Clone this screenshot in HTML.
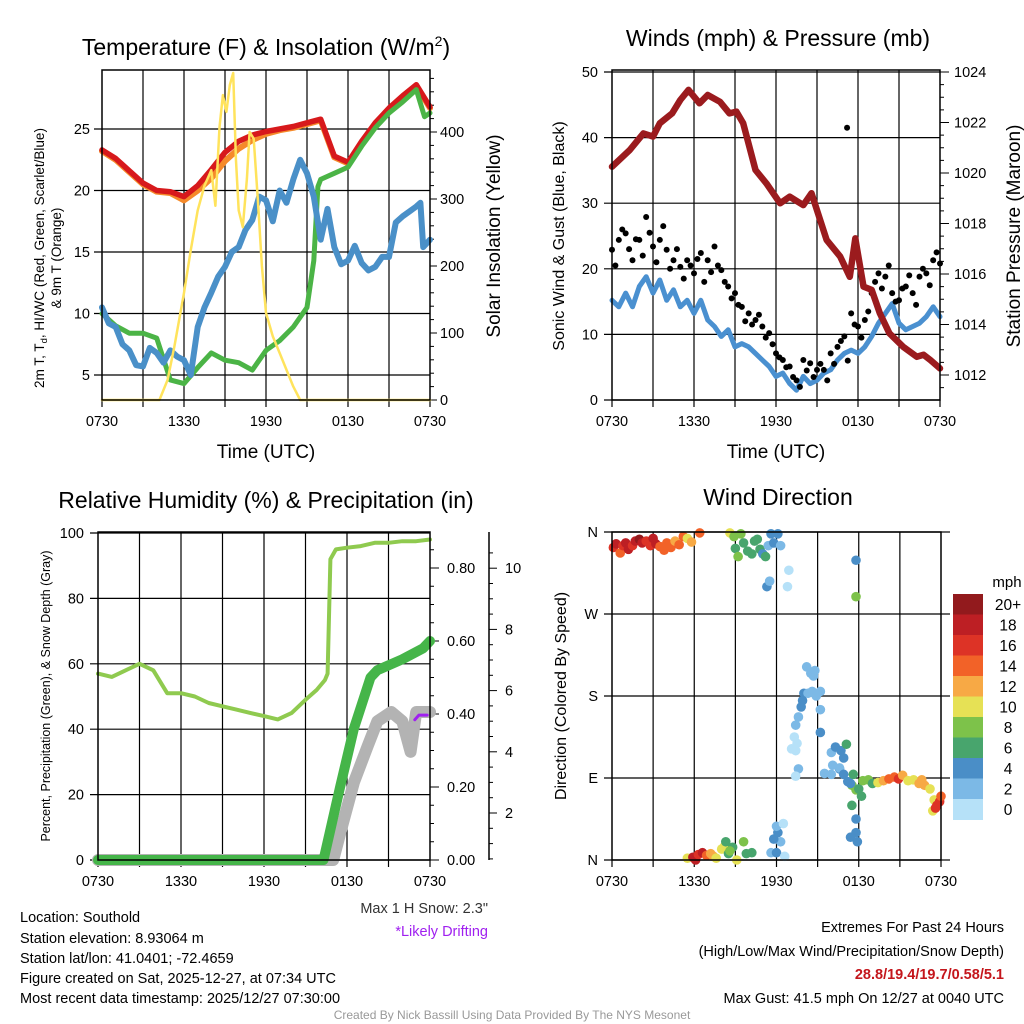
<!DOCTYPE html>
<html><head><meta charset="utf-8"><style>
html,body{margin:0;padding:0;background:#fff}
svg{display:block;font-family:"Liberation Sans",sans-serif}
</style></head><body>
<svg id="c" width="1024" height="1024" viewBox="0 0 1024 1024" xmlns="http://www.w3.org/2000/svg">
<rect width="1024" height="1024" fill="#fff"/>
<g id="g"></g>
<text x="266" y="55" font-size="23" text-anchor="middle">Temperature (F) &amp; Insolation (W/m<tspan font-size="14" dy="-9">2</tspan><tspan dy="9">)</tspan></text>
<text x="778" y="46" font-size="23" text-anchor="middle">Winds (mph) &amp; Pressure (mb)</text>
<text x="266" y="508" font-size="23" text-anchor="middle">Relative Humidity (%) &amp; Precipitation (in)</text>
<text x="778" y="505" font-size="23" text-anchor="middle">Wind Direction</text>
<text x="266" y="458" font-size="19" text-anchor="middle">Time (UTC)</text>
<text x="776" y="458" font-size="19" text-anchor="middle">Time (UTC)</text>
<text transform="translate(44,258) rotate(-90)" font-size="13.5" text-anchor="middle">2m T, T<tspan font-size="9.5" dy="3">d</tspan><tspan dy="-3">, HI/WC (Red, Green, Scarlet/Blue)</tspan></text>
<text transform="translate(61,258) rotate(-90)" font-size="13.5" text-anchor="middle">&amp; 9m T (Orange)</text>
<text transform="translate(500,236) rotate(-90)" font-size="19" text-anchor="middle">Solar Insolation (Yellow)</text>
<text transform="translate(564,236) rotate(-90)" font-size="16" text-anchor="middle">Sonic Wind &amp; Gust (Blue, Black)</text>
<text transform="translate(1020,236) rotate(-90)" font-size="19" text-anchor="middle">Station Pressure (Maroon)</text>
<text transform="translate(50,696) rotate(-90)" font-size="12.5" text-anchor="middle">Percent, Precipitation (Green), &amp; Snow Depth (Gray)</text>
<text transform="translate(566,696) rotate(-90)" font-size="16" text-anchor="middle">Direction (Colored By Speed)</text>
<text x="488" y="913" font-size="14.5" fill="#333" text-anchor="end">Max 1 H Snow: 2.3"</text>
<text x="488" y="936" font-size="14.5" fill="#a020f0" text-anchor="end">*Likely Drifting</text>
<g font-size="14.5">
<text x="20" y="922">Location: Southold</text>
<text x="20" y="943">Station elevation: 8.93064 m</text>
<text x="20" y="963">Station lat/lon: 41.0401; -72.4659</text>
<text x="20" y="983">Figure created on Sat, 2025-12-27, at 07:34 UTC</text>
<text x="20" y="1003">Most recent data timestamp: 2025/12/27 07:30:00</text>
</g>
<g font-size="14.5" text-anchor="end">
<text x="1004" y="932">Extremes For Past 24 Hours</text>
<text x="1004" y="956">(High/Low/Max Wind/Precipitation/Snow Depth)</text>
<text x="1004" y="979" fill="#c4161c" font-weight="bold">28.8/19.4/19.7/0.58/5.1</text>
<text x="1004" y="1003">Max Gust: 41.5 mph On 12/27 at 0040 UTC</text>
</g>
<text x="512" y="1019" font-size="12" fill="#999" text-anchor="middle">Created By Nick Bassill Using Data Provided By The NYS Mesonet</text>
</svg>
<script>
const xTicks=["0730","1330","1930","0130","0730"];
// Panel 1
const hrs=[0,1,2,3,4,5,6,7,8,9,10,11,12,13,14,15,16,17,18,19,20,21,22,23,24];
const tempRed=[23.3,22.6,21.6,20.6,20.0,19.9,19.5,20.4,21.7,23.1,24.0,24.5,24.8,25.0,25.2,25.5,25.8,22.8,22.3,24.0,25.5,26.7,27.7,28.6,26.8];
const temp9m=[23.2,22.5,21.5,20.5,19.9,19.8,19.2,20.0,21.0,22.4,23.4,24.1,24.6,24.9,25.1,25.4,25.7,22.7,22.2,23.9,25.4,26.6,27.6,28.5,26.7];
const greenHrs=[0,1,2,3,4,5,6,7,8,9,10,11,12,13,14,15,15.5,15.8,16,17,18,19,20,21,22,23,23.6,24];
const dewGreen=[10,9,8.4,8.4,8.0,4.6,4.3,5.6,6.8,6.2,6.0,5.4,7.0,7.8,8.9,10.5,14.3,20.3,20.9,21.4,21.9,23.6,25.1,26.3,27.2,28.2,26.0,26.3];
const blueHrs=[0,0.5,1,1.5,2,2.5,3,3.5,4,4.5,5,5.5,6,6.5,7,7.5,8,8.5,9,9.5,10,10.5,11,11.5,12,12.5,13,13.5,14,14.5,15,15.5,16,16.5,17,17.5,18,18.5,19,19.5,20,20.5,21,21.5,22,22.5,23,23.3,23.5,24];
const chillBlue=[10.5,9.2,8.9,7.5,7.0,5.8,5.7,7.2,6.8,6.0,7.0,6.5,6.2,5.0,8.9,10.5,11.7,13.0,13.8,15.0,15.4,16.8,17.6,19.5,19.2,17.5,20.0,19.0,20.9,22.5,21.4,19.5,16.0,18.5,15.4,14.0,14.3,15.5,14.1,13.5,13.8,14.6,14.6,17.4,17.9,18.3,18.7,19.0,15.4,16.0];
const solarHrs=[0,4.2,4.8,5.3,6,6.5,7,7.5,8,8.3,8.6,8.85,9.1,9.35,9.6,9.8,10,10.3,10.6,10.8,11.1,11.4,11.7,12,12.5,13,13.5,14,14.5,24];
const solar=[0,0,30,80,160,224,283,320,343,290,407,455,430,470,488,360,283,258,330,400,390,300,200,130,95,70,45,20,0,0];
// Panel 2
const windHrs=[0,0.5,1,1.5,2,2.5,3,3.5,4,4.5,5,5.5,6,6.5,7,7.5,8,8.5,9,9.5,10,10.5,11,11.5,12,12.5,13,13.5,14,14.5,15,15.5,16,16.5,17,17.5,18,18.5,19,19.5,20,20.5,21,21.5,22,22.5,23,23.5,24];
const windBlue=[15.2,14.2,16.3,14.2,17.3,18.8,16.3,18.3,15.2,16.8,14.2,15.2,13.2,15.2,12.2,11.2,9.7,10.7,8.1,8.6,8.1,7.1,6.1,5.1,3.6,4.1,2.5,1.5,3.6,2.5,3.0,4.1,4.6,6.1,7.1,7.6,7.1,8.1,9.7,11.7,13.2,14.7,11.7,10.7,11.2,11.7,12.7,14.2,12.7];
const gust=[22.9,24.4,25.4,21.3,24.4,27.9,23.4,24.4,22.9,21.3,20.3,21.3,19.3,22.4,21.3,23.4,19.8,17.3,16.3,14.2,13.2,12.2,11.2,10.2,7.1,6.1,5.1,3.0,6.1,5.6,4.6,4.6,7.1,8.1,9.7,13.2,11.2,12.2,16.3,19.3,18.8,16.3,15.2,17.3,16.3,18.8,19.3,21.3,20.8];
const gust2=[20.5,26.0,23.0,24.5,22.0,25.5,21.0,26.5,20.0,23.0,18.5,20.5,21.5,18.0,19.5,20.5,18.0,15.5,14.5,12.0,11.5,13.0,9.5,8.5,6.5,5.0,3.5,2.0,4.5,3.5,5.5,3.0,5.5,9.0,6.0,11.5,9.5,13.5,18.0,17.0,20.5,15.0,17.0,19.0,14.5,20.0,17.5,22.5,19.5];
const pHrs=[0,1.3,2.3,3,3.5,4.4,5,5.6,6.4,7,7.9,8.6,9.1,9.6,10.5,11.3,12.3,13,14,14.6,15.7,16.7,17.4,17.8,18.4,19,19.6,20.3,21.3,22.3,22.8,23.3,24];
const pressure=[1020.25,1020.91,1021.57,1021.44,1021.97,1022.36,1022.89,1023.29,1022.76,1023.09,1022.82,1022.36,1022.43,1021.97,1020.12,1019.59,1018.80,1019.06,1018.73,1019.2,1017.35,1016.69,1015.89,1017.41,1015.5,1015.37,1014.44,1013.65,1013.12,1012.72,1012.8,1012.59,1012.26];
// Panel 3
const rhHrs=[0,1,2,3,4,5,6,7,8,9,10,11,12,13,14,15,15.8,16.4,16.6,16.8,17.2,18,19,20,21,22,23,24];
const rh=[57,56,58,60,58,51,51,50,48,47,46,45,44,43,45,49,52,55,57,92,95,95.5,96,97,97,97.5,97.5,98];
const prHrs=[0,16.3,17.5,18.5,19.7,20.2,22,23.5,24];
const precip=[0,0,0.2,0.36,0.5,0.52,0.55,0.58,0.6];
const snHrs=[0,17,17.6,18.5,19.5,20.2,21.2,22.0,22.6,23.0,23.3,24];
const snow=[0,0,1.5,3.0,4.2,5.0,5.3,5.0,4.0,5.3,5.3,5.3];
const driftHrs=[22.9,23.2,23.8];
const drift=[5.05,5.2,5.2];
// Panel 4
const wdHour=[0.1,0.3,0.6,0.8,1.0,1.2,1.5,1.7,2.0,2.2,2.5,2.8,3.0,3.2,3.5,3.8,4.0,4.3,4.6,4.9,5.2,5.5,5.8,6.4,8.6,8.9,9.0,9.2,9.4,9.6,9.9,10.2,10.4,10.6,10.8,11.0,11.2,11.4,11.6,11.8,12.1,12.3,11.3,11.5,12.9,12.8,17.8,17.8,14.2,14.5,14.7,14.8,14.0,14.3,14.6,14.9,13.9,13.8,15.2,15.2,13.6,13.4,13.3,13.5,13.1,13.4,13.6,13.4,15.2,16.0,16.3,16.7,17.1,16.9,16.6,16.1,16.6,15.5,16.0,16.9,17.2,17.6,17.5,17.8,17.4,18.0,18.2,17.5,17.8,17.8,17.4,17.9,18.3,18.7,19.0,19.4,19.8,20.2,20.6,20.9,21.2,21.6,22.0,22.4,22.8,23.2,23.5,23.7,23.9,24.0,23.4,23.6,22.6,5.5,5.9,6.1,6.3,6.6,6.9,7.2,7.4,7.6,8.0,8.2,8.5,8.8,8.6,9.1,8.3,9.6,9.8,10.2,11.6,12.0,12.3,12.6,11.8,12.1,12.0,12.5];
const wdDir=[343,347,337,345,348,341,345,350,352,348,350,345,353,347,344,340,348,343,350,346,355,353,349,359,359,355,342,333,358,348,339,336,350,352,341,336,333,345,358,348,358,345,300,306,318,300,329,289,212,205,202,208,183,183,185,180,175,168,185,165,157,148,135,128,122,120,100,92,140,118,124,120,127,112,100,104,101,95,94,94,86,94,82,77,84,78,70,60,45,30,25,20,87,88,84,85,87,89,91,89,93,87,88,84,82,78,66,60,64,70,54,57,88,2,3,0,6,8,5,7,4,2,12,15,7,14,10,0,20,20,7,8,8,8,20,4,23,30,37,40];
const wdSpd=[16,18,15,17,19,18,16,19,20,18,17,16,18,19,15,15,14,14,13,14,14,11,12,14,10,8,7,8,8,7,6,6,6,6,6,5,6,2,4,4,4,2,4,2,0,0,4,8,2,2,2,3,4,2,2,3,4,4,2,2,2,2,1,1,0,0,2,0,4,2,4,4,6,4,4,2,2,3,2,4,4,6,8,8,4,6,6,6,4,4,4,4,8,8,6,10,12,14,14,16,12,10,10,12,12,10,10,16,16,14,10,16,12,10,18,18,16,18,14,12,12,10,10,10,6,6,8,10,6,8,6,6,2,4,2,1,4,4,2,0];
const cbLabels=["20+","18","16","14","12","10","8","6","4","2","0"];
const cbColors=["#921a1d","#bd1f24","#dd3326","#f26228","#f7a945","#e6e155","#7dc24a","#48a56d","#4a8ec7","#7cb9e6","#b6e1f8"];

const NS="http://www.w3.org/2000/svg";
const G=document.getElementById('g');
function mk(tag,attrs,parent){const e=document.createElementNS(NS,tag);for(const k in attrs)e.setAttribute(k,attrs[k]);(parent||G).appendChild(e);return e;}
function txt(x,y,s,size,anchor,parent){const e=mk('text',{x:x,y:y,'font-size':size,'text-anchor':anchor||'middle'},parent);e.textContent=s;return e;}
function poly(xs,ys,fx,fy,color,w,name){
  const pts=xs.map((h,i)=>fx(h).toFixed(1)+','+fy(ys[i]).toFixed(1)).join(' ');
  const e=mk('polyline',{points:pts,fill:'none',stroke:color,'stroke-width':w,'stroke-linejoin':'round','stroke-linecap':'round'});
  
  
  return e;
}
function frame(x0,x1,y0,y1,hYs,name){
  const g=mk('g',{});
  
  
  for(let i=1;i<8;i++){const x=x0+(x1-x0)*i/8;mk('line',{x1:x,x2:x,y1:y0,y2:y1,stroke:'#000','stroke-width':1.2},g);}
  hYs.forEach(y=>mk('line',{x1:x0-8,x2:x1,y1:y,y2:y,stroke:'#000','stroke-width':1.2},g));
  for(let i=0;i<=8;i++){const x=x0+(x1-x0)*i/8;mk('line',{x1:x,x2:x,y1:y1,y2:y1+7,stroke:'#000','stroke-width':1.2},g);}
  xTicks.forEach((t,i)=>{txt(x0+(x1-x0)*i/4,y1+26,t,14.5,'middle',g);});
  return g;
}
function border(x0,x1,y0,y1){mk('rect',{x:x0,y:y0,width:x1-x0,height:y1-y0,fill:'none',stroke:'#000','stroke-width':1.5});}

// ---------- Panel 1 ----------
(function(){
  const x0=102,x1=430,y0=70,y1=400;
  const fx=h=>x0+h*(x1-x0)/24;
  const fy=v=>375-(v-5)*12.3;
  const fs=s=>400-s*0.67;
  const tV=[5,10,15,20,25];
  frame(x0,x1,y0,y1,tV.map(fy),'temp-grid');
  tV.forEach(v=>txt(x0-12,fy(v)+5,String(v),14.5,'end'));
  [0,100,200,300,400].forEach(s=>{mk('line',{x1:x1,x2:x1+7,y1:fs(s),y2:fs(s),stroke:'#000'});txt(x1+10,fs(s)+5,String(s),14.5,'start');});
  for(let s=20;s<490;s+=20){if(s%100)mk('line',{x1:x1,x2:x1+4,y1:fs(s),y2:fs(s),stroke:'#000'});}
  poly(hrs,temp9m,fx,fy,'#f58a2a',6,'line-9m-temp');
  poly(hrs,tempRed,fx,fy,'#d7191c',5.5,'line-2m-temp');
  poly(greenHrs,dewGreen,fx,fy,'#4bb446',5,'line-dewpoint');
  poly(blueHrs,chillBlue,fx,fy,'#4a90c8',6,'line-wind-chill');
  poly(solarHrs,solar,fx,v=>Math.max(y0,fs(v)),'#ffe35c',2.5,'line-solar-insolation');
  border(x0,x1,y0,y1);
})();
// ---------- Panel 2 ----------
(function(){
  const x0=612,x1=940,y0=70,y1=400;
  const fx=h=>x0+h*(x1-x0)/24;
  const fy=v=>400-v*6.56;
  const fp=p=>375-(p-1012)*25.25;
  const wV=[0,10,20,30,40,50];
  frame(x0,x1,y0,y1,wV.map(fy),'wind-grid');
  wV.forEach(v=>txt(x0-14,fy(v)+5,String(v),14.5,'end'));
  [1012,1014,1016,1018,1020,1022,1024].forEach(p=>{mk('line',{x1:x1,x2:x1+9,y1:fp(p),y2:fp(p),stroke:'#000'});txt(x1+14,fp(p)+5,String(p),14.5,'start');});
  for(let p=1011.5;p<1024;p+=0.5){if(p%2)mk('line',{x1:x1,x2:x1+4,y1:fp(p),y2:fp(p),stroke:'#000'});}
  poly(windHrs,windBlue,fx,fy,'#4a90d0',5,'line-sonic-wind');
  windHrs.forEach((h,i)=>{
    const c=mk('circle',{cx:fx(h),cy:fy(gust[i]),r:3,fill:'#000'});
    
    
    if(i<48){const d=mk('circle',{cx:fx(h+0.25),cy:fy(gust2[i]),r:3,fill:'#000'});
    
    }
  });
  const o=mk('circle',{cx:fx(17.2),cy:fy(41.5),r:3,fill:'#000'});
  
  
  poly(pHrs,pressure,fx,fp,'#9b1b1e',6.5,'line-station-pressure');
  border(x0,x1,y0,y1);
})();
// ---------- Panel 3 ----------
(function(){
  const x0=98,x1=430,y0=532,y1=860;
  const fx=h=>x0+h*(x1-x0)/24;
  const fy=v=>y1-v*3.27;
  const fpr=p=>y1-p*365;
  const fsn=s=>813-(s-2)*30.6;
  const rV=[0,20,40,60,80,100];
  frame(x0,x1,y0,y1,rV.map(fy),'humidity-grid');
  rV.forEach(v=>txt(x0-14,fy(v)+5,String(v),14.5,'end'));
  ["0.00","0.20","0.40","0.60","0.80"].forEach(p=>{const y=fpr(+p);mk('line',{x1:x1,x2:x1+9,y1:y,y2:y,stroke:'#000'});txt(x1+17,y+5,p,14.5,'start');});
  for(let p=0.05;p<0.9;p+=0.05){if(Math.round(p*100)%20)mk('line',{x1:x1,x2:x1+4,y1:fpr(p),y2:fpr(p),stroke:'#000'});}
  mk('line',{x1:489,x2:489,y1:y0,y2:y1,stroke:'#000','stroke-width':1.5});
  [2,4,6,8,10].forEach(s=>{mk('line',{x1:489,x2:497,y1:fsn(s),y2:fsn(s),stroke:'#000'});txt(505,fsn(s)+5,String(s),14.5,'start');});
  for(let s=0.5;s<10.8;s+=0.5){if(s%2)mk('line',{x1:489,x2:493,y1:fsn(s),y2:fsn(s),stroke:'#000'});}
  poly(rhHrs,rh,fx,fy,'#8fca4f',4,'line-relative-humidity');
  poly(snHrs,snow,fx,s=>Math.min(y1,fsn(s)),'#b3b3b3',12,'line-snow-depth');
  poly(prHrs,precip,fx,fpr,'#45b549',10,'line-precipitation');
  poly(driftHrs,drift,fx,fsn,'#a020f0',3,'line-drifting');
  border(x0,x1,y0,y1);
})();
// ---------- Panel 4 ----------
(function(){
  const x0=612,x1=941,y0=532,y1=860;
  const fx=h=>x0+h*(x1-x0)/24;
  const fy=d=>y1-d*(y1-y0)/360;
  const dV=[0,90,180,270,360],dL=["N","E","S","W","N"];
  frame(x0,x1,y0,y1,dV.map(fy),'direction-grid');
  dV.forEach((d,i)=>{mk('line',{x1:x1,x2:x1+9,y1:fy(d),y2:fy(d),stroke:'#000','stroke-width':1.2});txt(x0-14,fy(d)+5,dL[i],14.5,'end');});
  wdHour.forEach((h,i)=>{
    const bin=Math.min(10,Math.floor(wdSpd[i]/2));
    const c=mk('circle',{cx:fx(h),cy:fy(wdDir[i]),r:4.8,fill:cbColors[10-bin]});
    
    
  });
  border(x0,x1,y0,y1);
  const cb=mk('g',{});
  
  
  const bh=20.5;
  cbColors.forEach((c,i)=>{mk('rect',{x:953,y:594+i*bh,width:30,height:bh+0.5,fill:c},cb);txt(1008,594+i*bh+16,cbLabels[i],15.5,'middle',cb);});
  txt(1007,587,'mph',15,'middle',cb);
})();
</script>
</body></html>
